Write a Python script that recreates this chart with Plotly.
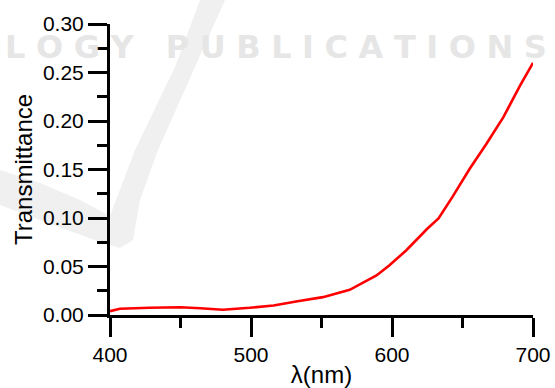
import plotly.graph_objects as go

# Data
wavelength_nm = [400, 407, 428, 450, 464, 480, 499, 516, 533, 551, 570, 589,
                 598, 610, 625, 633, 643, 655, 667, 679, 691, 700]
transmittance = [0.0040, 0.0064, 0.0074, 0.0080, 0.0070, 0.0054, 0.0074, 0.0098,
                 0.0142, 0.0184, 0.0260, 0.0407, 0.0510, 0.0665, 0.0889, 0.0995,
                 0.1220, 0.1505, 0.1765, 0.2040, 0.2370, 0.2600]

x_tick_vals = [400, 500, 600, 700]
y_tick_vals = [0.00, 0.05, 0.10, 0.15, 0.20, 0.25, 0.30]
y_tick_text = ["0.00", "0.05", "0.10", "0.15", "0.20", "0.25", "0.30"]

W, H = 555, 388
L, R, T, B = 110, 22, 24, 73
pw, ph = W - L - R, H - T - B


def px(x, y):
    return (x - L) / pw, (H - B - y) / ph


# faint check-mark watermark (pixel outline converted to paper coords)
mark_px = [(0, 170), (40, 183), (80, 200), (110, 216), (135, 150), (175, 67),
           (200, 0), (225, 0), (195, 67), (158, 150), (140, 200), (133, 240),
           (120, 248), (100, 242), (40, 220), (0, 205)]
pts = [px(a, b) for a, b in mark_px]
path = "M " + " L ".join(f"{a:.4f},{b:.4f}" for a, b in pts) + " Z"

fig = go.Figure()
fig.add_trace(go.Scatter(
    x=wavelength_nm, y=transmittance, mode="lines",
    line=dict(color="#ff0000", width=2.6), showlegend=False,
))

font_family = "Liberation Sans, Arial, sans-serif"
axis_common = dict(
    showline=True, linecolor="black", linewidth=3,
    ticks="outside", ticklen=19, tickwidth=3, tickcolor="black",
    showgrid=False, zeroline=False, mirror=False,
    tickfont=dict(family=font_family, size=21, color="black"),
)

fig.update_xaxes(
    range=[400, 700], tickvals=x_tick_vals,
    minor=dict(dtick=50, ticks="outside", ticklen=10, tickwidth=3, tickcolor="black"),
    title=dict(text="λ(nm)", font=dict(family=font_family, size=24, color="black"), standoff=9),
    **axis_common,
)
fig.update_yaxes(
    range=[0, 0.30], tickvals=y_tick_vals, ticktext=y_tick_text,
    minor=dict(dtick=0.025, ticks="outside", ticklen=10, tickwidth=3, tickcolor="black"),
    title=dict(text="Transmittance", font=dict(family=font_family, size=24, color="black"), standoff=4),
    **axis_common,
)

sp = "\u2004"
wm_text = sp.join("LOGY") + "\u2003" + sp.join("PUBLICATIONS")
fig.add_annotation(
    text=wm_text, xref="paper", yref="paper",
    x=px(276, 47)[0], y=px(276, 47)[1], showarrow=False,
    font=dict(family="DejaVu Sans, sans-serif", size=32, color="#e6e6e6", weight=700),
    xanchor="center", yanchor="middle",
)

fig.update_layout(
    width=W, height=H,
    margin=dict(l=L, r=R, t=T, b=B, autoexpand=False),
    paper_bgcolor="white", plot_bgcolor="rgba(0,0,0,0)",
    shapes=[dict(type="path", path=path, xref="paper", yref="paper",
                 fillcolor="#f0f0f0", line=dict(width=0), layer="below")],
)

fig.write_html("out.html", config={"displayModeBar": False},
               post_script="document.body.style.margin='0';document.body.style.overflow='hidden';")
